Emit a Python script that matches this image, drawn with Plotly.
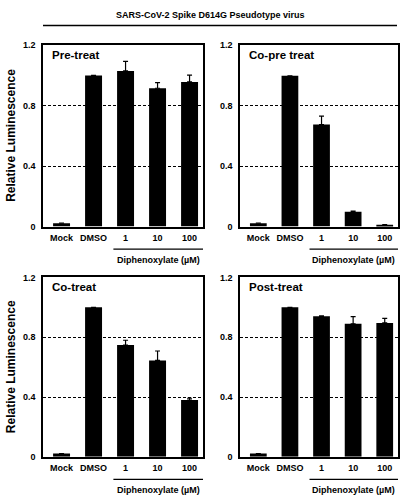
import plotly.graph_objects as go

categories = ["Mock", "DMSO", "1", "10", "100"]
panel_titles = ["Pre-treat", "Co-pre treat", "Co-treat", "Post-treat"]

pre_treat = [0.022, 1.0, 1.03, 0.915, 0.957]
pre_treat_err = [0.0, 0.0, 0.063, 0.037, 0.045]
co_pre_treat = [0.022, 0.997, 0.675, 0.098, 0.011]
co_pre_treat_err = [0.0, 0.0, 0.055, 0.004, 0.002]
co_treat = [0.022, 1.0, 0.748, 0.645, 0.38]
co_treat_err = [0.0, 0.0, 0.032, 0.063, 0.012]
post_treat = [0.022, 1.0, 0.94, 0.89, 0.896]
post_treat_err = [0.0, 0.0, 0.003, 0.048, 0.031]

y_ticks = [0, 0.4, 0.8, 1.2]
y_ticktext = ["0", "0.4", "0.8", "1.2"]

main_title = "SARS-CoV-2 Spike D614G Pseudotype virus"
y_title = "Relative Luminescence"
group_label = "Diphenoxylate (µM)"

values = [pre_treat, co_pre_treat, co_treat, post_treat]
errors = [pre_treat_err, co_pre_treat_err, co_treat_err, post_treat_err]

W, H = 410, 504
FONT = "Arial, 'Liberation Sans', sans-serif"

# panel pixel boxes: (left, right, top, bottom)
boxes = [(43, 203, 41, 226), (240, 398, 41, 226),
         (43, 203, 278, 461), (240, 398, 278, 461)]

fig = go.Figure()
layout = dict(
    width=W, height=H, margin=dict(l=0, r=0, t=0, b=0),
    paper_bgcolor="white", plot_bgcolor="white", showlegend=False,
    font=dict(family=FONT, color="black"),
)
annotations = []
shapes = []

for i, (vals, errs) in enumerate(zip(values, errors)):
    l, r, t, b = boxes[i]
    xa = "x" if i == 0 else f"x{i+1}"
    ya = "y" if i == 0 else f"y{i+1}"
    fig.add_trace(go.Bar(
        x=categories, y=vals, xaxis=xa, yaxis=ya,
        marker=dict(color="black", line=dict(width=0)), width=0.53,
        error_y=dict(type="data", array=errs, arrayminus=[0] * len(errs),
                     symmetric=False, color="black", thickness=1.2, width=2.5),
    ))
    xkey = "xaxis" if i == 0 else f"xaxis{i+1}"
    ykey = "yaxis" if i == 0 else f"yaxis{i+1}"
    layout[xkey] = dict(
        domain=[l / W, r / W], anchor=ya, type="category",
        range=[-0.58, 4.42], showline=True, mirror=True, linecolor="black",
        linewidth=1.5, ticks="", showgrid=False, zeroline=False,
        tickfont=dict(family=FONT, size=9, color="black", weight="bold"),
        ticklabelstandoff=2,
    )
    layout[ykey] = dict(
        domain=[1 - b / H, 1 - t / H], anchor=xa, range=[0, 1.2],
        tickvals=y_ticks, ticktext=y_ticktext, showline=True, mirror=True,
        linecolor="black", linewidth=1.5, ticks="", showgrid=True,
        gridcolor="black", gridwidth=1, griddash="3px,2px", zeroline=False,
        tickfont=dict(family=FONT, size=9, color="black", weight="bold"),
        ticklabelstandoff=4,
    )
    # panel label
    annotations.append(dict(
        text=panel_titles[i], xref=f"{xa} domain", yref=f"{ya} domain",
        x=0.045, y=0.945, xanchor="left", yanchor="middle", showarrow=False,
        font=dict(family=FONT, size=11.5, color="black", weight="bold"),
    ))
    # group underline and label
    x0 = l + 0.44 * (r - l)
    shapes.append(dict(type="line", xref="paper", yref="paper",
                       x0=x0 / W, x1=r / W, y0=1 - (b + 23) / H, y1=1 - (b + 23) / H,
                       line=dict(color="black", width=1.2)))
    annotations.append(dict(
        text=group_label, xref="paper", yref="paper",
        x=((x0 + r) / 2) / W, y=1 - (b + 34) / H, xanchor="center", yanchor="middle",
        showarrow=False, font=dict(family=FONT, size=9, color="black", weight="bold"),
    ))
    if i % 2 == 0:
        annotations.append(dict(
            text=y_title, xref="paper", yref="paper", textangle=-90,
            x=11 / W, y=1 - ((t + b) / 2) / H, xanchor="center", yanchor="middle",
            showarrow=False, font=dict(family=FONT, size=12, color="black", weight="bold"),
        ))

annotations.append(dict(
    text=main_title, xref="paper", yref="paper", x=210 / W, y=1 - 10 / H,
    xanchor="center", yanchor="middle", showarrow=False,
    font=dict(family=FONT, size=9, color="black", weight="bold"),
))
shapes.append(dict(type="line", xref="paper", yref="paper",
                   x0=43 / W, x1=397 / W, y0=1 - 21 / H, y1=1 - 21 / H,
                   line=dict(color="black", width=1.5)))

layout["annotations"] = annotations
layout["shapes"] = shapes
fig.update_layout(**layout)
fig.write_html("out.html", config={"displayModeBar": False},
               post_script="document.body.style.margin='0';document.body.style.padding='0';")
